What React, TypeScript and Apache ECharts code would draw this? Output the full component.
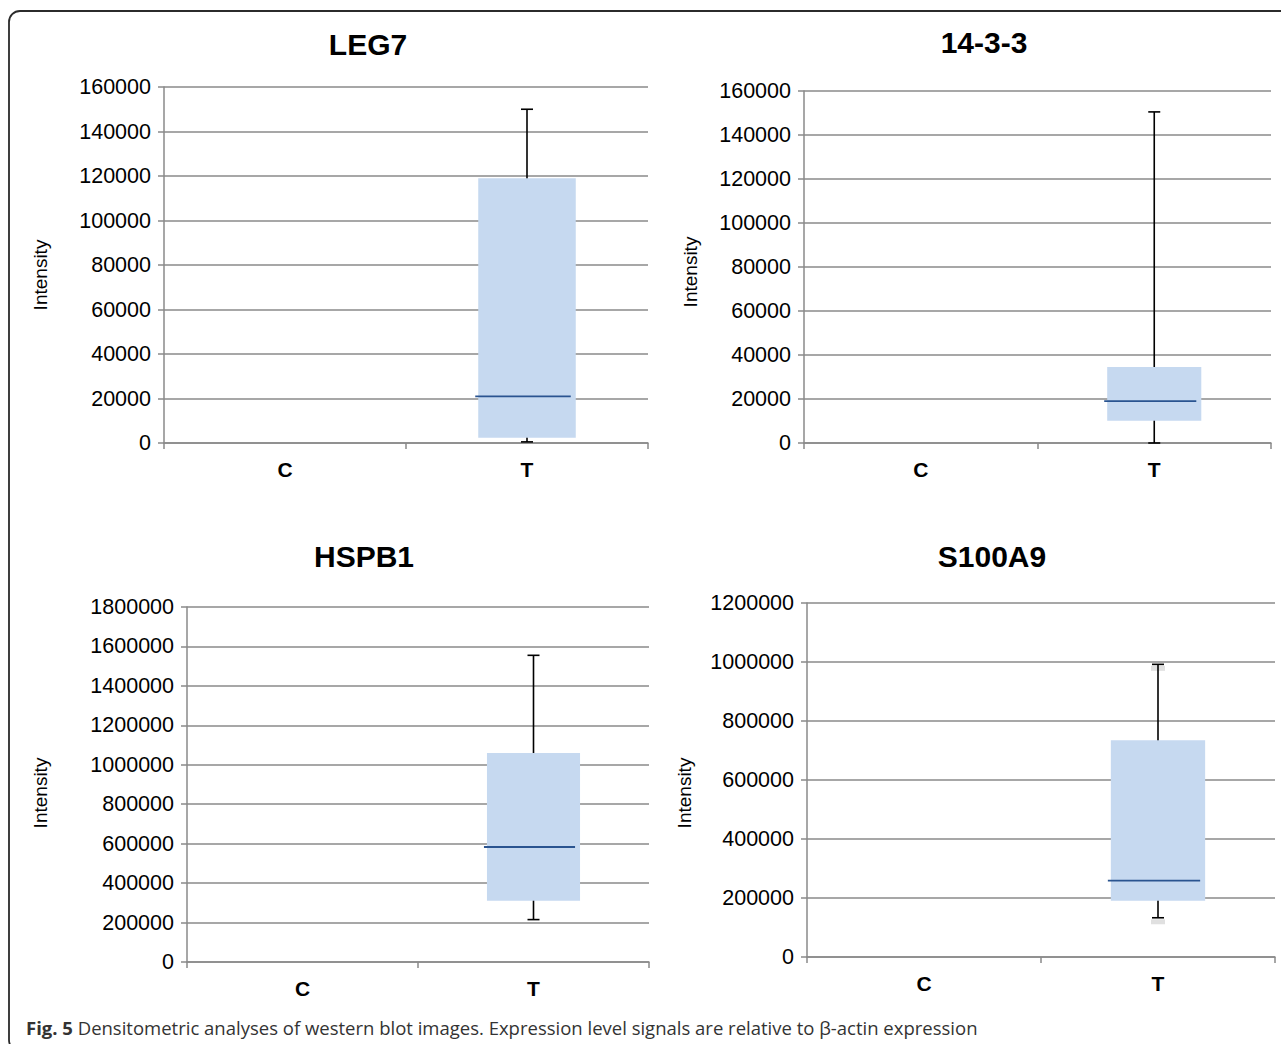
import React, { useEffect, useRef } from "react";
import * as echarts from "echarts";

// ---- data ----
const categories = ["C", "T"];
const panelTitles = ["LEG7", "14-3-3", "HSPB1", "S100A9"];
// [min, q1, median, q3, max] for group T (group C has no values)
const leg7T = [500, 2400, 21000, 119000, 150000];
const ywhaT = [0, 10100, 19000, 34500, 150500];
const hspb1T = [215000, 310000, 583000, 1060000, 1555000];
const s100a9T = [133000, 191000, 259000, 735000, 992000];
const panelValues = [leg7T, ywhaT, hspb1T, s100a9T];
const yMaxes = [160000, 160000, 1800000, 1200000];
const yIntervals = [20000, 20000, 200000, 200000];
const yAxisName = "Intensity";
const caption = "Densitometric analyses of western blot images. Expression level signals are relative to β-actin expression";
const captionLabel = "Fig. 5";

// ---- layout ----
const grids = [
  { left: 164, top: 87, width: 484, height: 356 },
  { left: 804, top: 91, width: 467, height: 352 },
  { left: 187, top: 607, width: 462, height: 355 },
  { left: 807, top: 603, width: 468, height: 354 },
];
const titlePos = [
  [368, 44],
  [984, 42],
  [364, 556],
  [992, 556],
];
const namePos = [
  [40, 275],
  [690, 272],
  [40, 793],
  [684, 793],
];
const capShadow = [false, false, false, true];

const GRID_COLOR = "#8a8a8a";
const BOX_FILL = "#c6d9f0";
const MEDIAN_COLOR = "#2a5490";
const FONT = "'Liberation Sans', Arial, Helvetica, sans-serif";

function makeRenderItem(shadow: boolean) {
  return (params: any, api: any) => {
    const xi = api.value(0);
    const vMin = api.value(1);
    const vQ1 = api.value(2);
    const vMed = api.value(3);
    const vQ3 = api.value(4);
    const vMax = api.value(5);
    const pMin = api.coord([xi, vMin]);
    const pQ1 = api.coord([xi, vQ1]);
    const pMed = api.coord([xi, vMed]);
    const pQ3 = api.coord([xi, vQ3]);
    const pMax = api.coord([xi, vMax]);
    const band = api.size([1, 0])[0];
    const bw = band * 0.403;
    const cx = pMed[0];
    const capW = 12;
    const children: any[] = [];
    if (shadow) {
      [pMax[1], pMin[1]].forEach((y) => {
        children.push({
          type: "line",
          shape: { x1: cx - capW / 2 - 1, y1: y + 4, x2: cx + capW / 2 + 1, y2: y + 4 },
          style: { stroke: "rgba(0,0,0,0.12)", lineWidth: 5 },
        });
      });
    }
    children.push(
      {
        type: "line",
        shape: { x1: cx, y1: pMax[1], x2: cx, y2: pMin[1] },
        style: { stroke: "#000", lineWidth: 1.6 },
      },
      {
        type: "rect",
        shape: { x: cx - bw / 2, y: pQ3[1], width: bw, height: pQ1[1] - pQ3[1] },
        style: { fill: BOX_FILL },
      },
      {
        type: "line",
        shape: { x1: cx - bw / 2 - 3, y1: pMed[1], x2: cx + bw / 2 - 5, y2: pMed[1] },
        style: { stroke: MEDIAN_COLOR, lineWidth: 1.8 },
      },
      {
        type: "line",
        shape: { x1: cx - capW / 2, y1: pMax[1], x2: cx + capW / 2, y2: pMax[1] },
        style: { stroke: "#000", lineWidth: 1.6 },
      },
      {
        type: "line",
        shape: { x1: cx - capW / 2, y1: pMin[1], x2: cx + capW / 2, y2: pMin[1] },
        style: { stroke: "#000", lineWidth: 1.6 },
      }
    );
    return { type: "group", children };
  };
}

export default function App() {
  const ref = useRef<HTMLDivElement>(null);

  useEffect(() => {
    if (!ref.current) return;
    const chart = echarts.init(ref.current, null, { renderer: "svg" });

    const xAxis = grids.map((_, i) => ({
      type: "category",
      gridIndex: i,
      data: categories,
      boundaryGap: true,
      axisLine: { show: true, lineStyle: { color: GRID_COLOR, width: 1.5 } },
      axisTick: { show: true, length: 6, lineStyle: { color: GRID_COLOR, width: 1.5 } },
      axisLabel: {
        margin: 16,
        fontFamily: FONT,
        fontSize: 21,
        fontWeight: "bold",
        color: "#000",
      },
      splitLine: { show: false },
    }));

    const yAxis = grids.map((_, i) => ({
      type: "value",
      gridIndex: i,
      min: 0,
      max: yMaxes[i],
      interval: yIntervals[i],
      axisLine: { show: true, lineStyle: { color: GRID_COLOR, width: 1.5 } },
      axisTick: { show: true, length: 6, lineStyle: { color: GRID_COLOR, width: 1.5 } },
      axisLabel: {
        margin: 13,
        fontFamily: FONT,
        fontSize: 21.5,
        color: "#000",
        formatter: (v: number) => String(v),
      },
      splitLine: { show: true, lineStyle: { color: GRID_COLOR, width: 1.5 } },
    }));

    const series = panelValues.map((vals, i) => ({
      type: "custom",
      xAxisIndex: i,
      yAxisIndex: i,
      renderItem: makeRenderItem(capShadow[i]),
      encode: { x: 0, y: [1, 2, 3, 4, 5] },
      data: [[categories.indexOf("T"), ...vals]],
      clip: false,
      z: 3,
    }));

    const graphic: any[] = [
      {
        type: "rect",
        shape: { x: 9, y: 11, width: 1300, height: 1040, r: 11 },
        style: { fill: "none", stroke: "#2b2b2b", lineWidth: 1.8 },
        z: 0,
      },
      {
        type: "text",
        x: 26,
        y: 1027,
        style: {
          text: "{b|" + captionLabel + "} " + caption,
          fontFamily: "'Open Sans', 'Noto Sans', sans-serif",
          fontSize: 18.5,
          fill: "#333",
          textVerticalAlign: "middle",
          rich: {
            b: {
              fontFamily: "'Open Sans', 'Noto Sans', sans-serif",
              fontSize: 18.5,
              fontWeight: "bold",
              fill: "#333",
            },
          },
        },
      },
    ];
    panelTitles.forEach((t, i) => {
      graphic.push({
        type: "text",
        x: titlePos[i][0],
        y: titlePos[i][1],
        style: {
          text: t,
          fontFamily: FONT,
          fontSize: 30,
          fontWeight: "bold",
          fill: "#000",
          textAlign: "center",
          textVerticalAlign: "middle",
        },
      });
      graphic.push({
        type: "text",
        x: namePos[i][0],
        y: namePos[i][1],
        rotation: Math.PI / 2,
        style: {
          text: yAxisName,
          fontFamily: FONT,
          fontSize: 19,
          fill: "#000",
          textAlign: "center",
          textVerticalAlign: "middle",
        },
      });
    });

    chart.setOption({
      animation: false,
      backgroundColor: "#fff",
      grid: grids.map((g) => ({ ...g, containLabel: false })),
      xAxis,
      yAxis,
      series,
      graphic,
    });

    return () => chart.dispose();
  }, []);

  return (
    <div
      ref={ref}
      style={{ position: "absolute", left: 0, top: 0, width: 1281, height: 1044 }}
    />
  );
}
